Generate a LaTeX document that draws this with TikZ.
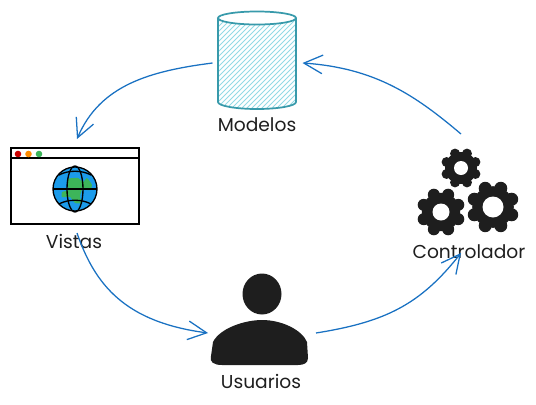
\documentclass[tikz,border=0pt]{standalone}
\usepackage{amssymb}
\usepackage{amsmath, amsthm}
\usepackage{fontspec}
\setmainfont{Poppins}
\usetikzlibrary{arrows.meta}

\definecolor{inkblack}{HTML}{1E1E1E}
\definecolor{flowblue}{HTML}{1971C2}
\definecolor{dbedge}{HTML}{389AAB}
\definecolor{dbhatch}{HTML}{93DAE5}
\definecolor{globeblue}{HTML}{1C9BEA}
\definecolor{landgreen}{HTML}{3DB55A}

\tikzset{
  labeltext/.style={anchor=center,inner sep=0.75pt,text=inkblack,font=\fontsize{14pt}{16pt}\selectfont},
  slot/.style={inner sep=0pt,outer sep=0pt,minimum width=#1},
  flow/.style={draw=flowblue,line width=0.95pt,-{Straight Barb[length=14pt,width=14pt,line width=0.95pt]}},
  globeline/.style={draw=black,line width=1pt},
  hatchline/.style={draw=dbhatch,line width=0.75pt}
}

% one gear: centre x, centre y, outer radius, hole radius
\newcommand{\gearicon}[4]{
  \begin{scope}[shift={(#1,#2)}]
    \fill[inkblack] (0,0) circle ({0.8*#3});
    \foreach \toothangle in {0,45,...,315}
      \fill[inkblack] (\toothangle+22.5:{0.78*#3}) circle ({0.25*#3});
    \fill[white] (0,0) circle (#4);
  \end{scope}
}

\begin{document}
\begin{tikzpicture}[x=0.75pt,y=0.75pt,yscale=-1,xscale=1]
        \useasboundingbox (0,0) rectangle (536,404);

        %Shape: Can, hatch
        \begin{scope}
          \clip (218,18) -- (218,102) arc (180:0:39 and 7) -- (296,18) arc (0:180:39 and 6.5) -- cycle;
          \foreach \hatchx in {100,105,...,320}
            \draw[hatchline] (\hatchx,120) -- (\hatchx+120,0);
        \end{scope}
        %Shape: Can, outline
        \draw[dbedge,line width=1.3pt] (218,18) -- (218,102) arc (180:0:39 and 7) -- (296,18);
        \draw[dbedge,line width=1.3pt] (257,18) ellipse (39 and 6.5);

        %Shape: Browser window
        \draw[black,line width=1.4pt] (11,148) rectangle (139,224);
        \draw[black,line width=1.4pt] (11,158) -- (139,158);
        \fill[red!80!black] (18,154) circle (3.3);
        \fill[orange!90!yellow] (28.5,154) circle (3.3);
        \fill[landgreen] (39,154) circle (3.3);

        %Shape: Globe
        \fill[globeblue] (75,189) circle (22);
        \fill[landgreen] plot[smooth cycle,tension=0.3] coordinates {(68,179) (78,178) (83,182) (87,178) (92,185) (90,190) (82,190) (80,197) (82,203) (75,203) (70,197) (62,197) (62,192) (68,190)};
        \draw[globeline] (75,189) circle (22);
        \draw[globeline] (75,189) ellipse (8 and 23);
        \draw[globeline] (53,189) -- (97,189);
        \draw[globeline] (59,175) .. controls (68,170) and (82,170) .. (91,175);
        \draw[globeline] (59,204) .. controls (68,199) and (82,199) .. (91,204);

        %Shape: Gears
        \gearicon{461}{168}{20}{7}
        \gearicon{441}{212}{24}{8.5}
        \gearicon{493}{207}{26}{10.5}

        %Shape: Person
        \fill[inkblack] (262,294) ellipse (19.5 and 20.5);
        \fill[inkblack] (213,342) .. controls (220,328) and (245,320) .. (262,320) .. controls (282,320) and (302,330) .. (307,342) -- (308,358) .. controls (308,363) and (304,365) .. (298,365) -- (222,365) .. controls (214,365) and (209,362) .. (211,356) -- cycle;

        % Slots the arrows attach to
        \node (modelos) [slot=67.5pt,minimum height=78pt] at (257.5,63) {};
        \node (vistas) [slot=96pt,minimum height=70.5pt] at (77,186) {};
        \node (usuarios) [slot=81pt,minimum height=60pt] at (262,333) {};
        \node (controlador) [slot=80pt,minimum height=89.25pt] at (461,193.5) {};

        % Text Node
        \draw (257,125) node (modeloslabel) [labeltext] {Modelos};
        % Text Node
        \draw (74,241) node (vistaslabel) [labeltext] {Vistas};
        % Text Node
        \draw (469,252) node (controladorlabel) [labeltext] {Controlador};
        % Text Node
        \draw (261,381) node (usuarioslabel) [labeltext] {Usuarios};

        % Arrows
        \draw[flow] (modelos.west) .. controls (150,71) and (100,85) .. (vistas.north);
        \draw[flow] (vistas.south) .. controls (95,285) and (125,322) .. (usuarios.west);
        \draw[flow] (usuarios.east) .. controls (385,322) and (420,305) .. (controlador.south);
        \draw[flow] (controlador.north) .. controls (415,95) and (375,68) .. (modelos.east);

    \end{tikzpicture}
\end{document}
